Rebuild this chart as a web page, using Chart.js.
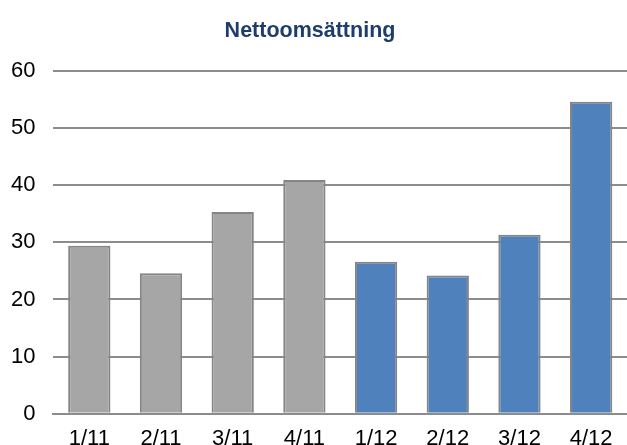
<!DOCTYPE html>
<html>
<head>
<meta charset="utf-8">
<script src="https://cdn.jsdelivr.net/npm/chart.js@4"></script>
<style>
  html, body { margin: 0; padding: 0; background: #fff; }
  #wrap { width: 627px; height: 445px; }
</style>
</head>
<body>
<div id="wrap"><canvas id="myChart" width="627" height="445"></canvas></div>
<script>
var quarters = ['1/11', '2/11', '3/11', '4/11', '1/12', '2/12', '3/12', '4/12'];
var sales = [29.4, 24.6, 35.3, 40.9, 26.6, 24.2, 31.3, 54.6];
var barColors = ['#a6a6a6', '#a6a6a6', '#a6a6a6', '#a6a6a6', '#4f81bd', '#4f81bd', '#4f81bd', '#4f81bd'];
var yTicks = [0, 10, 20, 30, 40, 50, 60];

var ctx = document.getElementById('myChart').getContext('2d');
var chart = new Chart(ctx, {
    type: 'bar',
    data: {
        labels: quarters,
        datasets: [{
            label: 'Nettoomsättning',
            data: sales,
            backgroundColor: barColors,
            borderColor: '#858585',
            borderWidth: 2,
            borderSkipped: 'bottom',
            barPercentage: 0.59,
            categoryPercentage: 1
        }]
    },
    options: {
        responsive: false,
        animation: false,
        layout: { padding: { left: -7, right: 0, top: 0, bottom: -26 } },
        plugins: {
            legend: { display: false },
            tooltip: { enabled: false },
            title: {
                display: true,
                text: 'Nettoomsättning',
                color: '#1f3d6b',
                font: { family: 'Liberation Sans, Arial, sans-serif', size: 21.5, weight: 'bold' },
                padding: { top: 18, bottom: 27 }
            }
        },
        scales: {
            x: {
                grid: { display: false, drawTicks: false },
                border: { display: true, color: '#8c8c8c', width: 2 },
                ticks: {
                    color: '#000',
                    padding: 14,
                    font: { family: 'Liberation Sans, Arial, sans-serif', size: 22, lineHeight: 1 }
                }
            },
            y: {
                min: 0,
                max: 60,
                afterBuildTicks: function (axis) {
                    axis.ticks = yTicks.map(function (v) { return { value: v }; });
                },
                grid: { color: '#8c8c8c', lineWidth: 2, drawTicks: false },
                border: { display: false },
                ticks: {
                    color: '#000',
                    padding: 18,
                    font: { family: 'Liberation Sans, Arial, sans-serif', size: 22 }
                }
            }
        }
    }
});
</script>
</body>
</html>
